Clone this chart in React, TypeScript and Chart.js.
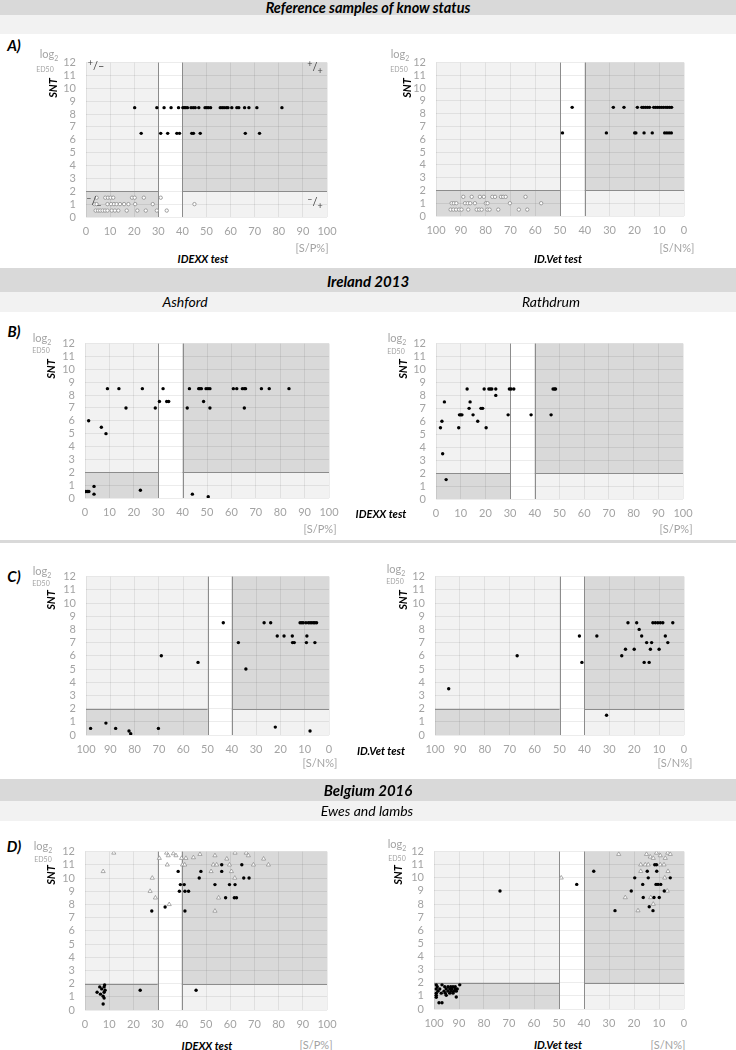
import React, { useEffect, useRef } from "react";
import { Chart, registerables } from "chart.js";

Chart.register(...registerables);

type Pt = [number, number];

// ---- axis ranges / cut-offs ----
const Y_MIN = 0;
const Y_MAX = 12;
const Y_STEP = 1;
const X_MIN = 0;
const X_MAX = 100;
const X_STEP = 10;
const SNT_CUTOFF = 2;
const IDEXX_CUTS = [30, 40];
const IDVET_CUTS = [40, 50];

// ---- A) reference samples ----
const A_IDEXX_POS: Pt[] = [
  [20.2, 8.5], [29.4, 8.5], [32.4, 8.5], [35.3, 8.5], [38.4, 8.5], [40.2, 8.5], [40.8, 8.5], [41.4, 8.5], [42.1, 8.5],
  [43.6, 8.5], [44.5, 8.5], [45.3, 8.5], [46.8, 8.5], [49.4, 8.5], [50.1, 8.5], [50.8, 8.5], [51.7, 8.5], [55.7, 8.5],
  [56.5, 8.5], [57.3, 8.5], [58.2, 8.5], [58.9, 8.5], [60.5, 8.5], [62.6, 8.5], [63.4, 8.5], [65.8, 8.5], [67.6, 8.5],
  [70.9, 8.5], [81.3, 8.5],
  [22.9, 6.5], [31.0, 6.5], [33.9, 6.5], [37.7, 6.5], [38.8, 6.5], [43.9, 6.5], [44.6, 6.5], [47.4, 6.5], [66.1, 6.5], [72.0, 6.5],
];
const A_IDEXX_NEG: Pt[] = [
  [4.4, 1.5], [8.0, 1.5], [9.1, 1.5], [10.2, 1.5], [11.3, 1.5], [19.1, 1.5], [20.2, 1.5], [24.0, 1.5], [31.0, 1.5],
  [3.5, 1.0], [4.4, 1.0], [8.9, 1.0], [10.4, 1.0], [11.6, 1.0], [12.7, 1.0], [14.1, 1.0], [15.8, 1.0], [17.6, 1.0],
  [20.4, 1.0], [27.7, 1.0], [45.0, 1.0],
  [4.0, 0.5], [5.0, 0.5], [5.9, 0.5], [6.9, 0.5], [7.9, 0.5], [8.9, 0.5], [10.7, 0.5], [12.0, 0.5], [13.4, 0.5],
  [16.9, 0.5], [21.3, 0.5], [24.8, 0.5], [29.4, 0.5], [33.5, 0.5],
];
const A_IDVET_POS: Pt[] = [
  [45.1, 8.5], [28.5, 8.5], [24.2, 8.5], [18.8, 8.5], [17.0, 8.5], [16.3, 8.5], [15.5, 8.5], [14.7, 8.5], [13.9, 8.5],
  [12.2, 8.5], [11.4, 8.5], [10.6, 8.5], [9.8, 8.5], [9.0, 8.5], [8.2, 8.5], [7.3, 8.5], [6.6, 8.5], [5.8, 8.5], [5.0, 8.5],
  [49.0, 6.5], [31.3, 6.5], [19.9, 6.5], [19.4, 6.5], [16.1, 6.5], [12.8, 6.5], [7.8, 6.5], [6.9, 6.5], [6.0, 6.5], [5.1, 6.5],
];
const A_IDVET_NEG: Pt[] = [
  [89.0, 1.5], [85.6, 1.5], [82.3, 1.5], [80.7, 1.5], [77.3, 1.5], [76.2, 1.5], [73.8, 1.5], [72.9, 1.5], [71.9, 1.5], [63.9, 1.5],
  [93.7, 1.0], [92.8, 1.0], [91.8, 1.0], [88.3, 1.0], [87.2, 1.0], [86.2, 1.0], [84.3, 1.0], [79.9, 1.0], [79.2, 1.0],
  [70.2, 1.0], [57.6, 1.0],
  [94.1, 0.5], [93.0, 0.5], [91.9, 0.5], [90.7, 0.5], [89.7, 0.5], [87.0, 0.5], [83.6, 0.5], [82.6, 0.5], [81.6, 0.5],
  [79.3, 0.5], [78.4, 0.5], [74.9, 0.5], [66.6, 0.5], [63.2, 0.5],
];

// ---- B) Ireland 2013, IDEXX ----
const B_ASHFORD_IDEXX: Pt[] = [
  [9.2, 8.5], [13.9, 8.5], [23.5, 8.5], [32.0, 8.5], [42.8, 8.5], [46.6, 8.5], [47.1, 8.5], [47.7, 8.5], [49.6, 8.5],
  [50.4, 8.5], [51.2, 8.5], [60.8, 8.5], [62.2, 8.5], [64.5, 8.5], [65.3, 8.5], [65.8, 8.5], [72.3, 8.5], [75.5, 8.5], [83.6, 8.5],
  [30.5, 7.5], [33.5, 7.5], [34.3, 7.5], [48.6, 7.5],
  [16.8, 7.0], [28.8, 7.0], [41.9, 7.0], [51.2, 7.0], [65.3, 7.0],
  [1.5, 6.0], [6.7, 5.5], [8.6, 5.0],
  [0.4, 0.5], [1.0, 0.5], [1.6, 0.5], [3.7, 0.9], [3.7, 0.3], [22.7, 0.6], [44.0, 0.3], [50.5, 0.1],
];
const B_RATHDRUM_IDEXX: Pt[] = [
  [12.6, 8.5], [19.5, 8.5], [21.4, 8.5], [22.0, 8.5], [22.6, 8.5], [24.2, 8.5], [29.7, 8.5], [30.4, 8.5], [31.5, 8.5],
  [47.4, 8.5], [48.0, 8.5], [48.4, 8.5],
  [24.2, 8.0], [3.4, 7.5], [13.8, 7.5], [13.4, 7.0], [18.2, 7.0], [18.9, 7.0],
  [9.5, 6.5], [10.0, 6.5], [10.5, 6.5], [15.0, 6.5], [29.2, 6.5], [38.5, 6.5], [46.6, 6.5],
  [2.4, 6.0], [16.9, 6.0], [1.8, 5.5], [9.2, 5.5], [20.3, 5.5], [2.7, 3.5], [4.1, 1.5],
];

// ---- C) Ireland 2013, ID.Vet ----
const C_ASHFORD_IDVET: Pt[] = [
  [43.5, 8.5], [26.7, 8.5], [24.0, 8.5], [11.9, 8.5], [11.2, 8.5], [10.6, 8.5], [9.5, 8.5], [8.5, 8.5], [7.8, 8.5],
  [7.1, 8.5], [6.4, 8.5], [5.8, 8.5], [5.1, 8.5],
  [21.3, 7.5], [18.5, 7.5], [15.1, 7.5], [9.1, 7.5],
  [37.3, 7.0], [15.0, 7.0], [14.3, 7.0], [9.3, 7.0], [5.8, 7.0],
  [69.0, 6.0], [53.9, 5.5], [34.2, 5.0],
  [98.1, 0.5], [91.8, 0.9], [87.8, 0.5], [82.3, 0.3], [81.6, 0.1], [70.2, 0.5], [22.1, 0.6], [7.8, 0.3],
];
const C_RATHDRUM_IDVET: Pt[] = [
  [94.5, 3.5], [67.0, 6.0], [42.0, 7.5], [41.0, 5.5], [35.0, 7.5], [31.1, 1.5],
  [25.0, 6.0], [23.5, 6.5], [22.5, 8.5], [20.0, 6.5], [19.0, 8.5], [18.0, 8.0], [17.0, 7.5], [16.0, 5.5], [15.0, 7.0],
  [14.0, 5.5], [13.5, 6.5], [13.0, 7.0], [12.5, 8.5], [11.5, 8.5], [10.5, 8.5], [10.0, 6.5], [9.5, 8.5], [8.5, 8.5],
  [7.5, 7.5], [6.5, 7.0], [4.5, 8.5],
];

// ---- D) Belgium 2016, ewes (dots) and lambs (triangles) ----
const D_IDEXX_EWES: Pt[] = [
  [56.5, 11.0], [64.8, 11.0],
  [38.5, 10.5], [47.9, 10.5], [56.5, 10.5],
  [47.2, 10.0], [65.6, 10.0], [67.8, 10.0],
  [39.4, 9.5], [41.0, 9.5], [53.7, 9.5], [59.7, 9.5], [62.0, 9.5],
  [39.0, 9.0], [41.3, 9.0], [42.8, 9.0],
  [58.1, 8.5], [61.7, 8.5], [62.6, 8.5],
  [33.1, 7.8], [27.6, 7.5], [41.3, 7.5],
  [22.8, 1.5], [45.9, 1.5],
  [6.1, 1.75], [7.9, 1.75], [8.1, 1.9], [6.9, 1.6], [8.3, 1.5], [5.0, 1.35], [7.9, 1.35], [6.4, 1.2], [7.5, 1.05],
  [7.9, 0.9], [7.5, 0.45],
];
const D_IDEXX_LAMBS: Pt[] = [
  [11.9, 11.9], [30.7, 11.5], [33.7, 11.9], [34.4, 11.7], [36.5, 11.85], [37.6, 11.7], [39.9, 11.5], [41.7, 11.5],
  [44.8, 11.55], [47.5, 11.8], [53.7, 11.7], [58.6, 11.45], [62.0, 11.9], [66.6, 11.9], [67.5, 11.7], [73.8, 11.45],
  [34.0, 11.0], [40.3, 11.0], [41.2, 11.0], [53.0, 11.0], [54.4, 11.0], [59.7, 11.0], [69.6, 11.0], [75.8, 11.0],
  [7.5, 10.5], [52.1, 10.5], [60.5, 10.5],
  [27.8, 10.0], [61.9, 10.0],
  [26.9, 9.0], [29.1, 8.5], [55.2, 8.5], [34.8, 8.0], [53.7, 7.5],
];
const D_IDVET_EWES: Pt[] = [
  [11.7, 11.0], [11.0, 11.0],
  [36.1, 10.5], [14.7, 10.5], [10.9, 10.5],
  [19.7, 10.0], [14.3, 10.0], [5.5, 10.0],
  [42.9, 9.5], [16.5, 9.5], [11.2, 9.5], [10.4, 9.5], [9.3, 9.5],
  [73.6, 9.0], [21.1, 9.0], [7.9, 9.0],
  [16.3, 8.5], [12.0, 8.5], [9.9, 8.5],
  [13.9, 7.8], [27.6, 7.5], [12.4, 7.5],
  [99.1, 1.84], [96.8, 1.84], [89.7, 1.84],
  [98.7, 1.7], [95.7, 1.7], [94.4, 1.7], [93.3, 1.7], [92.4, 1.7], [91.5, 1.7],
  [99.1, 1.53], [97.7, 1.53], [95.1, 1.53], [93.7, 1.53], [92.8, 1.53], [91.5, 1.53], [90.7, 1.53],
  [98.4, 1.36], [96.0, 1.36], [94.4, 1.36], [93.1, 1.36], [92.0, 1.36], [91.1, 1.36],
  [99.1, 1.21], [97.1, 1.21], [95.5, 1.21], [93.7, 1.21], [92.4, 1.21],
  [99.1, 1.04], [95.1, 1.04], [91.1, 0.92], [99.1, 0.9], [98.0, 0.48], [96.8, 0.48],
];
const D_IDVET_LAMBS: Pt[] = [
  [26.1, 11.8], [15.0, 11.8], [13.5, 11.6], [12.3, 11.5], [11.0, 11.9], [9.5, 11.7], [7.5, 11.5], [6.5, 11.9], [5.5, 11.8],
  [17.3, 11.0], [15.5, 11.0], [14.3, 11.0], [9.5, 11.0], [8.0, 11.0],
  [17.3, 10.5], [6.4, 10.5],
  [49.1, 10.0], [7.7, 10.0],
  [6.7, 9.0], [23.5, 8.5], [13.3, 8.5], [12.3, 8.0], [18.4, 7.5],
];

// ---- styling ----
const FONT = 'Lato, "Open Sans", "Noto Sans", sans-serif';
const LIGHT = "#f2f2f2";
const DARK = "#d9d9d9";
const LINE = "#8c8c8c";
const GRID = "rgba(0,0,0,0.075)";
const TICK = "#a3a3a3";
const YW = 48;
const PT = 10;
const PR = 18;
const XH = 26;

type Kind = "dot" | "circle" | "tri";
interface Series {
  data: Pt[];
  kind: Kind;
}

function styleFor(kind: Kind) {
  if (kind === "dot")
    return { pointStyle: "circle", pointRadius: 1.7, backgroundColor: "#000", borderColor: "#000", borderWidth: 0 };
  if (kind === "circle")
    return { pointStyle: "circle", pointRadius: 1.7, backgroundColor: "#fff", borderColor: "#8a8a8a", borderWidth: 0.8 };
  return { pointStyle: "triangle", pointRadius: 2.4, backgroundColor: "#fff", borderColor: "#8a8a8a", borderWidth: 0.7 };
}

interface PanelProps {
  L: number;
  T: number;
  R: number;
  B: number;
  kit: "idexx" | "idvet";
  series: Series[];
}

function Panel({ L, T, R, B, kit, series }: PanelProps) {
  const ref = useRef<HTMLCanvasElement | null>(null);
  const w = R - L + YW + PR;
  const h = B - T + PT + XH;
  useEffect(() => {
    const canvas = ref.current;
    if (!canvas) return;
    const reversed = kit === "idvet";
    const cuts = reversed ? IDVET_CUTS : IDEXX_CUTS;
    const negRange = reversed ? [cuts[1], X_MAX] : [X_MIN, cuts[0]];
    const posRange = reversed ? [X_MIN, cuts[0]] : [cuts[1], X_MAX];
    const span = (x: any, r: number[]) => {
      const p = x.getPixelForValue(r[0]);
      const q = x.getPixelForValue(r[1]);
      return [Math.min(p, q), Math.max(p, q)];
    };
    const zones = {
      id: "zones",
      beforeDraw(chart: any) {
        const { ctx, chartArea: a, scales } = chart;
        const x = scales.x;
        const y = scales.y;
        const yc = y.getPixelForValue(SNT_CUTOFF);
        const [n0, n1] = span(x, negRange);
        const [p0, p1] = span(x, posRange);
        ctx.save();
        ctx.fillStyle = LIGHT;
        ctx.fillRect(n0, a.top, n1 - n0, yc - a.top);
        ctx.fillRect(p0, yc, p1 - p0, a.bottom - yc);
        ctx.fillStyle = DARK;
        ctx.fillRect(n0, yc, n1 - n0, a.bottom - yc);
        ctx.fillRect(p0, a.top, p1 - p0, yc - a.top);
        ctx.restore();
      },
      beforeDatasetsDraw(chart: any) {
        const { ctx, chartArea: a, scales } = chart;
        const x = scales.x;
        const y = scales.y;
        const yc = Math.round(y.getPixelForValue(SNT_CUTOFF)) + 0.5;
        const [n0, n1] = span(x, negRange);
        const [p0, p1] = span(x, posRange);
        ctx.save();
        ctx.strokeStyle = LINE;
        ctx.lineWidth = 1;
        ctx.beginPath();
        for (const c of cuts) {
          const px = Math.round(x.getPixelForValue(c)) + 0.5;
          ctx.moveTo(px, a.top);
          ctx.lineTo(px, a.bottom);
        }
        ctx.moveTo(n0, yc);
        ctx.lineTo(n1, yc);
        ctx.moveTo(p0, yc);
        ctx.lineTo(p1, yc);
        ctx.stroke();
        ctx.restore();
      },
    };
    const tickFont = { family: FONT, size: 11 };
    const chart = new Chart(canvas, {
      type: "scatter",
      data: {
        datasets: series.map((s) => ({
          data: s.data.map(([x, y]) => ({ x, y })),
          ...styleFor(s.kind),
        })) as any,
      },
      options: {
        animation: false,
        responsive: false,
        maintainAspectRatio: false,
        layout: { padding: { top: PT, right: PR, left: 0, bottom: 0 } },
        plugins: { legend: { display: false }, tooltip: { enabled: false } },
        scales: {
          x: {
            type: "linear",
            min: X_MIN,
            max: X_MAX,
            reverse: reversed,
            afterFit: (s: any) => {
              s.height = XH;
            },
            ticks: { stepSize: X_STEP, autoSkip: false, maxRotation: 0, color: TICK, font: tickFont, padding: 8 },
            grid: { color: GRID, drawTicks: false },
            border: { display: false },
          },
          y: {
            type: "linear",
            min: Y_MIN,
            max: Y_MAX,
            afterFit: (s: any) => {
              s.width = YW;
            },
            ticks: { stepSize: Y_STEP, autoSkip: false, color: TICK, font: tickFont, padding: 10 },
            grid: { color: GRID, drawTicks: false },
            border: { display: false },
          },
        },
      } as any,
      plugins: [zones],
    });
    return () => chart.destroy();
  }, []);
  return (
    <canvas
      ref={ref}
      width={w}
      height={h}
      style={{ position: "absolute", left: L - YW, top: T - PT, width: w, height: h }}
    />
  );
}

interface LabelProps {
  x: number;
  y: number;
  size?: number;
  bold?: boolean;
  italic?: boolean;
  color?: string;
  rotate?: boolean;
  children: React.ReactNode;
}

function Label({ x, y, size = 11, bold = false, italic = false, color = "#000", rotate = false, children }: LabelProps) {
  return (
    <div
      style={{
        position: "absolute",
        left: x,
        top: y,
        transform: `translate(-50%, -50%)${rotate ? " rotate(-90deg)" : ""}`,
        fontFamily: FONT,
        fontSize: size,
        fontWeight: bold ? 700 : 400,
        fontStyle: italic ? "italic" : "normal",
        color,
        whiteSpace: "nowrap",
        lineHeight: 1,
      }}
    >
      {children}
    </div>
  );
}

function Band({ top, h, color }: { top: number; h: number; color: string }) {
  return <div style={{ position: "absolute", left: 0, top, width: 736, height: h, background: color }} />;
}

function YTitle({ lx, ly, ex, ey, sx, sy }: { lx: number; ly: number; ex: number; ey: number; sx: number; sy: number }) {
  return (
    <>
      <Label x={lx} y={ly} size={11} color={TICK}>
        log<span style={{ fontSize: 7, position: "relative", top: 3 }}>2</span>
      </Label>
      <Label x={ex} y={ey} size={7} color={TICK}>
        ED50
      </Label>
      <Label x={sx} y={sy} size={11} bold italic rotate>
        SNT
      </Label>
    </>
  );
}

const sup = (s: string) => <span style={{ fontSize: 9, position: "relative", top: -4 }}>{s}</span>;
const sub = (s: string) => <span style={{ fontSize: 9, position: "relative", top: 3 }}>{s}</span>;

export default function App() {
  return (
    <div style={{ position: "absolute", left: 0, top: 0, width: 736, height: 1050, background: "#fff", overflow: "hidden" }}>
      {/* header 1 */}
      <Band top={0} h={15} color={DARK} />
      <Band top={15} h={19} color={LIGHT} />
      <Label x={368} y={7.5} size={14.5} bold italic>
        Reference samples of know status
      </Label>
      <Label x={14} y={45} size={15} bold italic>
        A)
      </Label>

      <Panel L={86} T={56} R={327} B={217} kit="idexx"
        series={[{ data: A_IDEXX_POS, kind: "dot" }, { data: A_IDEXX_NEG, kind: "circle" }]} />
      <YTitle lx={49} ly={53} ex={45} ey={69} sx={52} sy={88} />
      <Label x={96} y={65} size={11} color="#444">{sup("+")}/–</Label>
      <Label x={315} y={66} size={11} color="#444">{sup("+")}/{sub("+")}</Label>
      <Label x={94} y={200} size={11} color="#444">{sup("–")}/{sub("–")}</Label>
      <Label x={315} y={201} size={11} color="#444">{sup("–")}/{sub("+")}</Label>
      <Label x={312} y={247} size={11} color={TICK}>[S/P%]</Label>
      <Label x={203} y={258} size={11} bold italic>IDEXX test</Label>

      <Panel L={436} T={56} R={684} B={216} kit="idvet"
        series={[{ data: A_IDVET_POS, kind: "dot" }, { data: A_IDVET_NEG, kind: "circle" }]} />
      <YTitle lx={400} ly={53} ex={399} ey={69} sx={406} sy={88} />
      <Label x={677} y={247} size={11} color={TICK}>[S/N%]</Label>
      <Label x={558} y={258} size={11} bold italic>ID.Vet test</Label>

      {/* header 2 */}
      <Band top={268} h={24} color={DARK} />
      <Band top={292} h={20} color={LIGHT} />
      <Label x={368} y={281} size={15} bold italic>Ireland 2013</Label>
      <Label x={185} y={302} size={14} italic>Ashford</Label>
      <Label x={551} y={302} size={14} italic>Rathdrum</Label>
      <Label x={14} y={331} size={15} bold italic>B)</Label>

      <Panel L={85} T={337} R={329} B={498} kit="idexx" series={[{ data: B_ASHFORD_IDEXX, kind: "dot" }]} />
      <YTitle lx={42} ly={337} ex={41} ey={350} sx={50} sy={369} />
      <Label x={320} y={528} size={11} color={TICK}>[S/P%]</Label>

      <Panel L={436} T={337} R={683} B={499} kit="idexx" series={[{ data: B_RATHDRUM_IDEXX, kind: "dot" }]} />
      <YTitle lx={397} ly={337} ex={396} ey={351} sx={402} sy={369} />
      <Label x={676} y={528} size={11} color={TICK}>[S/P%]</Label>
      <Label x={381} y={513} size={11} bold italic>IDEXX test</Label>

      <div style={{ position: "absolute", left: 0, top: 540, width: 736, height: 3, background: DARK }} />

      <Label x={14} y={576} size={15} bold italic>C)</Label>
      <Panel L={86} T={570} R={329} B={735} kit="idvet" series={[{ data: C_ASHFORD_IDVET, kind: "dot" }]} />
      <YTitle lx={42} ly={570} ex={41} ey={583} sx={50} sy={600} />
      <Label x={320} y={762} size={11} color={TICK}>[S/N%]</Label>

      <Panel L={435} T={570} R={684} B={735} kit="idvet" series={[{ data: C_RATHDRUM_IDVET, kind: "dot" }]} />
      <YTitle lx={396} ly={568} ex={395} ey={581} sx={402} sy={600} />
      <Label x={675} y={762} size={11} color={TICK}>[S/N%]</Label>
      <Label x={381} y={750} size={11} bold italic>ID.Vet test</Label>

      {/* header 3 */}
      <Band top={779} h={22} color={DARK} />
      <Band top={801} h={20} color={LIGHT} />
      <Label x={368} y={790} size={15} bold italic>Belgium 2016</Label>
      <Label x={367} y={811} size={14} italic>Ewes and lambs</Label>
      <Label x={14} y={846} size={15} bold italic>D)</Label>

      <Panel L={85} T={845} R={327} B={1010} kit="idexx"
        series={[{ data: D_IDEXX_EWES, kind: "dot" }, { data: D_IDEXX_LAMBS, kind: "tri" }]} />
      <YTitle lx={43} ly={845} ex={43} ey={859} sx={50} sy={875} />
      <Label x={207} y={1045} size={11} bold italic>IDEXX test</Label>
      <Label x={316} y={1044} size={11} color={TICK}>[S/P%]</Label>

      <Panel L={434} T={845} R={684} B={1009} kit="idvet"
        series={[{ data: D_IDVET_EWES, kind: "dot" }, { data: D_IDVET_LAMBS, kind: "tri" }]} />
      <YTitle lx={397} ly={843} ex={397} ey={858} sx={397} sy={875} />
      <Label x={558} y={1044} size={11} bold italic>ID.Vet test</Label>
      <Label x={668} y={1044} size={11} color={TICK}>[S/N%]</Label>
    </div>
  );
}
